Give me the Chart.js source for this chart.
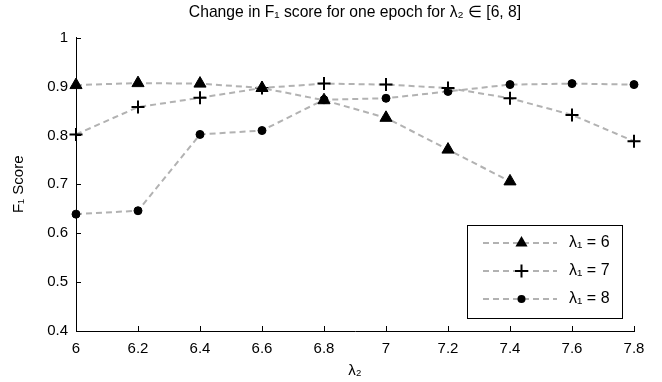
<!DOCTYPE html>
<html>
<head>
<meta charset="utf-8">
<script src="https://cdn.jsdelivr.net/npm/chart.js@4/dist/chart.umd.min.js"></script>
<style>
html,body{margin:0;padding:0;background:#fff;}
#wrap{width:662px;height:382px;}
</style>
</head>
<body>
<div id="wrap"><canvas id="c" width="662" height="382"></canvas></div>
<script>
// ---- data ----
const lambda2Values = [6, 6.2, 6.4, 6.6, 6.8, 7, 7.2, 7.4, 7.6, 7.8];
const f1Lambda1Is6 = [0.903, 0.907, 0.906, 0.897, 0.872, 0.836, 0.771, 0.706];
const f1Lambda1Is7 = [0.802, 0.858, 0.877, 0.897, 0.906, 0.904, 0.897, 0.876, 0.842, 0.788];
const f1Lambda1Is8 = [0.639, 0.646, 0.802, 0.810, 0.873, 0.876, 0.890, 0.904, 0.906, 0.904];
const seriesLabels = ['λ₁ = 6', 'λ₁ = 7', 'λ₁ = 8'];
const xTickLabels = ['6', '6.2', '6.4', '6.6', '6.8', '7', '7.2', '7.4', '7.6', '7.8'];
const yTickLabels = ['0.4', '0.5', '0.6', '0.7', '0.8', '0.9', '1'];
const chartTitle = 'Change in F₁ score for one epoch for λ₂ ∈ [6, 8]';
const xTitle = 'λ₂';
const yTitle = 'F₁ Score';

const FONT = '"Liberation Sans", Arial, Helvetica, sans-serif';
const LINE_COLOR = 'rgb(178,178,178)';
const DASH = [6, 4];

function toPoints(ys) { return ys.map((v, i) => ({x: lambda2Values[i], y: v})); }

const common = {
  borderColor: LINE_COLOR,
  borderWidth: 2,
  borderDash: DASH,
  pointBackgroundColor: '#000',
  pointBorderColor: '#000',
  fill: false,
  tension: 0,
  clip: false
};

const inwardTicks = {
  id: 'inwardTicks',
  afterDraw(chart) {
    const {ctx, chartArea: a} = chart;
    const x = chart.scales.x, y = chart.scales.y;
    ctx.save();
    ctx.strokeStyle = '#000';
    ctx.lineWidth = 1;
    ctx.setLineDash([]);
    ctx.beginPath();
    x.ticks.forEach(t => {
      const px = Math.round(x.getPixelForValue(t.value)) + 0.5;
      ctx.moveTo(px, a.bottom);
      ctx.lineTo(px, a.bottom - 5);
    });
    y.ticks.forEach(t => {
      const py = Math.round(y.getPixelForValue(t.value)) + 0.5;
      ctx.moveTo(a.left, py);
      ctx.lineTo(a.left + 5, py);
    });
    ctx.stroke();
    ctx.restore();
  }
};

function drawMarker(ctx, style, cx, cy, r) {
  ctx.save();
  ctx.setLineDash([]);
  ctx.fillStyle = '#000';
  ctx.strokeStyle = '#000';
  ctx.beginPath();
  if (style === 'triangle') {
    for (let k = 0; k < 3; k++) {
      const ang = k * 2 * Math.PI / 3;
      const px = cx + Math.sin(ang) * r, py = cy - Math.cos(ang) * r;
      if (k === 0) ctx.moveTo(px, py); else ctx.lineTo(px, py);
    }
    ctx.closePath();
    ctx.fill();
  } else if (style === 'cross') {
    ctx.lineWidth = 2;
    ctx.moveTo(cx - r, cy); ctx.lineTo(cx + r, cy);
    ctx.moveTo(cx, cy - r); ctx.lineTo(cx, cy + r);
    ctx.stroke();
  } else {
    ctx.arc(cx, cy, r, 0, Math.PI * 2);
    ctx.fill();
  }
  ctx.restore();
}

const boxLegend = {
  id: 'boxLegend',
  afterDraw(chart) {
    const {ctx} = chart;
    const bx = 467, by = 225, bw = 155, bh = 93;
    ctx.save();
    ctx.fillStyle = '#fff';
    ctx.fillRect(bx, by, bw, bh);
    ctx.strokeStyle = '#000';
    ctx.lineWidth = 1;
    ctx.strokeRect(bx + 0.5, by + 0.5, bw, bh);
    const rows = [243, 271, 299];
    chart.data.datasets.forEach((ds, i) => {
      const ry = rows[i];
      ctx.save();
      ctx.strokeStyle = ds.borderColor;
      ctx.lineWidth = ds.borderWidth;
      ctx.setLineDash(ds.borderDash);
      ctx.beginPath();
      ctx.moveTo(483, ry);
      ctx.lineTo(557, ry);
      ctx.stroke();
      ctx.restore();
      drawMarker(ctx, ds.pointStyle, 521.5, ry, ds.pointRadius);
      ctx.fillStyle = '#000';
      ctx.font = '16px ' + FONT;
      ctx.textBaseline = 'middle';
      ctx.textAlign = 'left';
      ctx.fillText(ds.label, 569, ry);
    });
    ctx.restore();
  }
};

new Chart(document.getElementById('c'), {
  type: 'line',
  data: {
    datasets: [
      Object.assign({}, common, {label: seriesLabels[0], data: toPoints(f1Lambda1Is6), pointStyle: 'triangle', pointRadius: 7, pointBorderWidth: 1}),
      Object.assign({}, common, {label: seriesLabels[1], data: toPoints(f1Lambda1Is7), pointStyle: 'cross', pointRadius: 6.5, pointBorderWidth: 2}),
      Object.assign({}, common, {label: seriesLabels[2], data: toPoints(f1Lambda1Is8), pointStyle: 'circle', pointRadius: 4, pointBorderWidth: 1})
    ]
  },
  options: {
    responsive: false,
    animation: false,
    events: [],
    layout: {padding: {left: 0, right: 28, top: 0, bottom: 0}},
    plugins: {
      legend: {display: false},
      tooltip: {enabled: false},
      title: {
        display: true,
        fullSize: false,
        text: chartTitle,
        color: '#000',
        font: {family: FONT, size: 15.7, weight: 'normal'},
        padding: {top: 3.5, bottom: 15.3}
      }
    },
    scales: {
      x: {
        type: 'linear',
        min: 6, max: 7.8,
        afterFit(s) { s.height = 51; },
        grid: {display: false, drawTicks: false, tickLength: 0},
        border: {display: true, color: '#000', width: 1},
        ticks: {
          stepSize: 0.2,
          padding: 9,
          color: '#000',
          font: {family: FONT, size: 15},
          callback: (v, i) => xTickLabels[i]
        },
        title: {display: true, text: xTitle, color: '#000', font: {family: FONT, size: 15}, padding: {top: 0, bottom: 2}}
      },
      y: {
        min: 0.4, max: 1,
        afterFit(s) { s.width = 76; },
        grid: {display: false, drawTicks: false, tickLength: 0},
        border: {display: true, color: '#000', width: 1},
        ticks: {
          stepSize: 0.1,
          padding: 8,
          color: '#000',
          font: {family: FONT, size: 15},
          callback: (v, i) => yTickLabels[i]
        },
        title: {display: true, text: yTitle, color: '#000', font: {family: FONT, size: 15}, padding: {top: 10, bottom: 0}}
      }
    }
  },
  plugins: [inwardTicks, boxLegend]
});
</script>
</body>
</html>
